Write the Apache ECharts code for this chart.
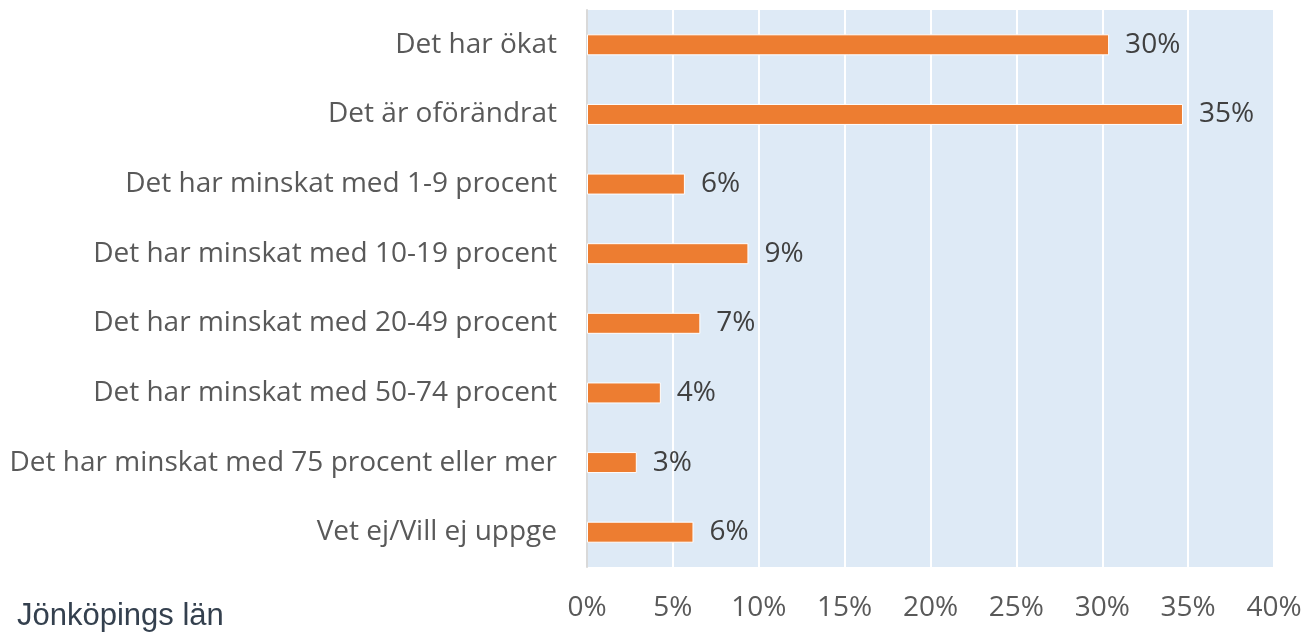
<!DOCTYPE html>
<html>
<head>
<meta charset="utf-8">
<script src="https://cdn.jsdelivr.net/npm/echarts@6/dist/echarts.min.js"></script>
<style>
html,body{margin:0;padding:0;background:#fff;}
#chart{width:1306px;height:632px;}
</style>
</head>
<body>
<div id="chart"></div>
<script>
const categories = [
  "Det har ökat",
  "Det är oförändrat",
  "Det har minskat med 1-9 procent",
  "Det har minskat med 10-19 procent",
  "Det har minskat med 20-49 procent",
  "Det har minskat med 50-74 procent",
  "Det har minskat med 75 procent eller mer",
  "Vet ej/Vill ej uppge"
];
const values = [30.4, 34.7, 5.7, 9.4, 6.6, 4.3, 2.9, 6.2];
const xTicks = [0, 5, 10, 15, 20, 25, 30, 35, 40];
const footnote = "Jönköpings län";

const chart = echarts.init(document.getElementById('chart'));
chart.setOption({
  animation: false,
  title: {
    text: footnote,
    left: 12,
    top: 596,
    textStyle: {fontFamily: 'Liberation Sans', fontSize: 31, fontWeight: 'normal', color: '#34404E'}
  },
  grid: {
    left: 587, right: 32, top: 10, bottom: 65,
    show: true, backgroundColor: '#DEEAF6', borderWidth: 0
  },
  xAxis: {
    type: 'value',
    min: xTicks[0], max: xTicks[xTicks.length - 1], interval: 5,
    axisLine: {show: false},
    axisTick: {show: false},
    splitLine: {show: true, lineStyle: {color: '#FFFFFF', width: 2}},
    axisLabel: {
      formatter: v => v + '%',
      margin: 27,
      fontFamily: 'Open Sans', fontSize: 28, color: '#595959'
    }
  },
  yAxis: {
    type: 'category',
    data: categories,
    inverse: true,
    axisLine: {show: true, lineStyle: {color: '#D9D9D9', width: 2}},
    axisTick: {show: false},
    axisLabel: {
      margin: 30,
      fontFamily: 'Open Sans', fontSize: 28, color: '#595959'
    }
  },
  series: [{
    type: 'bar',
    data: values,
    barWidth: 21,
    itemStyle: {color: '#ED7D31', borderColor: '#FFFFFF', borderWidth: 1},
    label: {
      show: true,
      position: 'right',
      distance: 16,
      formatter: p => Math.round(p.value) + '%',
      fontFamily: 'Open Sans', fontSize: 28, color: '#404040'
    }
  }]
});
</script>
</body>
</html>
